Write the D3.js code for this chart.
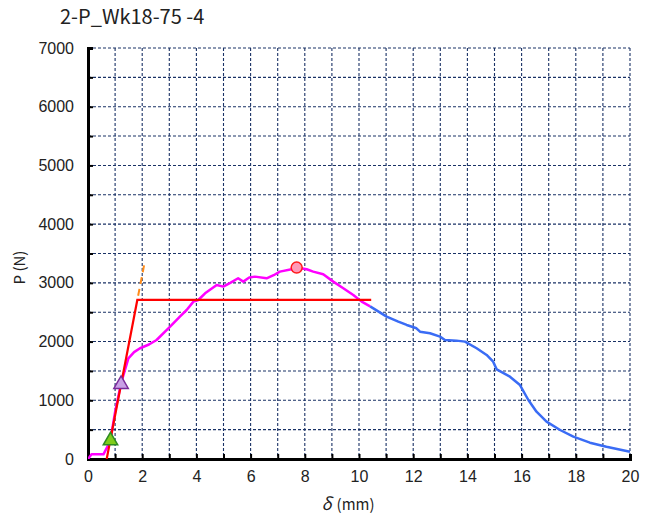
<!DOCTYPE html>
<html>
<head>
<meta charset="utf-8">
<script src="https://cdn.jsdelivr.net/npm/d3@7"></script>
<style>
  html, body { margin: 0; padding: 0; background: #fff; }
  svg { display: block; font-family: "Noto Sans CJK JP", "Noto Sans", sans-serif; }
</style>
</head>
<body>
<svg id="chart" width="654" height="517"></svg>
<script>
// Load–displacement record, pre-peak portion (magenta)
const preDelta = [0, 0.13, 0.57, 0.75, 0.83, 1.0, 1.22, 1.49, 1.7, 1.92, 2.25, 2.53, 3.03, 3.39, 3.64, 3.89, 4.07, 4.32, 4.75, 4.99, 5.25, 5.54, 5.73, 5.95, 6.16, 6.59, 6.85, 7.08, 7.51, 7.70, 8.07, 8.31, 8.68, 9.05, 9.42, 9.79, 10.10, 10.41];
const preLoad  = [0, 80, 80, 240, 330, 800, 1290, 1715, 1820, 1886, 1950, 2027, 2254, 2425, 2538, 2680, 2708, 2822, 2964, 2936, 3000, 3078, 3021, 3090, 3106, 3078, 3130, 3191, 3232, 3260, 3232, 3191, 3146, 3021, 2908, 2794, 2680, 2600];

// Post-peak softening branch (blue)
const postDelta = [10.41, 11.02, 11.45, 11.76, 12.12, 12.25, 12.62, 12.99, 13.17, 13.60, 13.91, 14.34, 14.71, 14.95, 15.08, 15.57, 15.94, 16.25, 16.55, 16.92, 17.42, 17.91, 18.52, 19.13, 20.0];
const postLoad  = [2600, 2425, 2340, 2283, 2226, 2169, 2141, 2084, 2027, 2016, 1999, 1886, 1772, 1658, 1528, 1402, 1260, 1005, 806, 636, 494, 380, 278, 210, 125];

// Bilinear idealisation (red) and elastic extension (orange, dashed)
const bilinDelta = [0.69, 1.82, 10.45];
const bilinLoad  = [0, 2709, 2709];
const extDelta = [1.85, 2.07];
const extLoad  = [2780, 3300];

// Characteristic points
const pointNames = ["first", "second", "peak"];
const pointDelta = [0.83, 1.22, 7.70];
const pointLoad  = [330, 1290, 3260];

// Axis ticks
const xTickLabels = [0, 2, 4, 6, 8, 10, 12, 14, 16, 18, 20];
const yTickLabels = [0, 1000, 2000, 3000, 4000, 5000, 6000, 7000];

const svg = d3.select("#chart");
const mLeft = 88, mRight = 630, mTop = 48, mBottom = 459;

const x = d3.scaleLinear().domain([0, 20]).range([mLeft, mRight]);
const y = d3.scaleLinear().domain([0, 7000]).range([mBottom, mTop]);

const clipId = "plotclip";
svg.append("defs").append("clipPath").attr("id", clipId)
  .append("rect").attr("x", mLeft).attr("y", mTop - 2).attr("width", mRight - mLeft + 2).attr("height", mBottom - mTop + 2);

// Grid
const gridColor = "#1a3266";
const g = svg.append("g");
g.selectAll("line.vg").data(d3.range(1, 21)).join("line")
  .attr("x1", d => x(d)).attr("x2", d => x(d))
  .attr("y1", mTop).attr("y2", mBottom)
  .attr("stroke", gridColor).attr("stroke-width", 1.1).attr("stroke-dasharray", "3,2");
g.selectAll("line.hg").data(d3.range(500, 7001, 500)).join("line")
  .attr("x1", mLeft).attr("x2", mRight)
  .attr("y1", d => y(d)).attr("y2", d => y(d))
  .attr("stroke", gridColor).attr("stroke-width", 1.1).attr("stroke-dasharray", "3,2");

// Axes
const xAxis = d3.axisBottom(x).tickValues(d3.range(0, 21, 1)).tickSize(-5)
  .tickFormat(d => xTickLabels.includes(d) ? d : "").tickPadding(12);
const gx = svg.append("g").attr("transform", `translate(0,${mBottom})`).call(xAxis);
gx.select(".domain").attr("stroke", "#000").attr("stroke-width", 3);
gx.selectAll(".tick line").attr("stroke", "#000").attr("stroke-width", 2);
gx.selectAll(".tick text").attr("font-size", 16).attr("fill", "#222");

const yAxis = d3.axisLeft(y).tickValues(d3.range(0, 7001, 500)).tickSize(-5)
  .tickFormat(d => yTickLabels.includes(d) ? d : "").tickPadding(14);
const gy = svg.append("g").attr("transform", `translate(${mLeft},0)`).call(yAxis);
gy.select(".domain").attr("stroke", "#000").attr("stroke-width", 3);
gy.selectAll(".tick line").attr("stroke", "#000").attr("stroke-width", 2);
gy.selectAll(".tick text").attr("font-size", 16).attr("fill", "#222");

// Curves
const plot = svg.append("g").attr("clip-path", `url(#${clipId})`);
const line = d3.line().x(d => x(d[0])).y(d => y(d[1]));

plot.append("path").datum(postDelta.map((d, i) => [d, postLoad[i]]))
  .attr("d", line).attr("fill", "none").attr("stroke", "#3a6cf5").attr("stroke-width", 2.5).attr("stroke-linejoin", "round");
plot.append("path").datum(preDelta.map((d, i) => [d, preLoad[i]]))
  .attr("d", line).attr("fill", "none").attr("stroke", "#ff00ff").attr("stroke-width", 2.5).attr("stroke-linejoin", "round");
plot.append("path").datum(bilinDelta.map((d, i) => [d, bilinLoad[i]]))
  .attr("d", line).attr("fill", "none").attr("stroke", "#ff0000").attr("stroke-width", 2.2);
plot.append("path").datum(extDelta.map((d, i) => [d, extLoad[i]]))
  .attr("d", line).attr("fill", "none").attr("stroke", "#ff8c1a").attr("stroke-width", 2).attr("stroke-dasharray", "7,5");

// Markers
const tri = d3.symbol().type(d3.symbolTriangle).size(90);
svg.append("path").attr("d", tri)
  .attr("transform", `translate(${x(pointDelta[0])},${y(pointLoad[0]) + 1})`)
  .attr("fill", "#7fcc1a").attr("stroke", "#2e8b22").attr("stroke-width", 1.5);
svg.append("path").attr("d", tri)
  .attr("transform", `translate(${x(pointDelta[1])},${y(pointLoad[1]) + 1})`)
  .attr("fill", "#c9a0e6").attr("stroke", "#7a2a9a").attr("stroke-width", 1.5);
svg.append("circle").attr("cx", x(pointDelta[2])).attr("cy", y(pointLoad[2])).attr("r", 5.5)
  .attr("fill", "#ff9ab8").attr("stroke", "#ff1a1a").attr("stroke-width", 1.5);

// Titles
svg.append("text").attr("x", 60).attr("y", 24).attr("font-size", 20).attr("fill", "#222")
  .text("2-P_Wk18-75 -4");
svg.append("text").attr("transform", `translate(25,${(mTop + mBottom) / 2 + 14}) rotate(-90)`)
  .attr("text-anchor", "middle").attr("font-size", 15).attr("fill", "#222").text("P (N)");
const xl = svg.append("text").attr("x", 348).attr("y", 510).attr("text-anchor", "middle")
  .attr("font-size", 15).attr("fill", "#222");
xl.append("tspan").attr("font-style", "italic").attr("font-size", 17).text("δ");
xl.append("tspan").attr("dx", 5).text("(mm)");
</script>
</body>
</html>
